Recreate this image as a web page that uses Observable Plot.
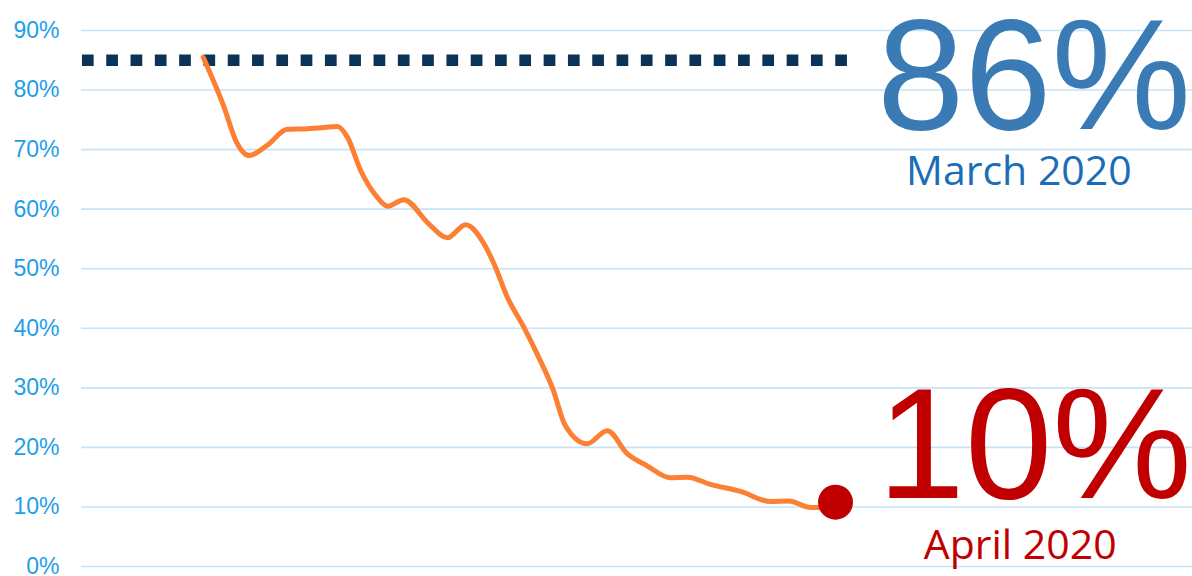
<!DOCTYPE html>
<html>
<head>
<meta charset="utf-8">
<script src="https://cdn.jsdelivr.net/npm/d3@7"></script>
<script src="https://cdn.jsdelivr.net/npm/@observablehq/plot@0.6"></script>
<style>
  html, body { margin: 0; padding: 0; background: #ffffff; }
  #chart svg { display: block; }
</style>
</head>
<body>
<div id="chart"></div>
<script>
// Position along the period (0 = start of March, 100 = end of April)
const timeIndex = [0, 3.3, 5.2, 7.3, 10.1, 13.3, 16.4, 19.1, 21.2, 22.8, 24.9, 27.3, 29.2, 31.7, 35.7, 38.6, 41.5, 44.4, 46.0, 48.1, 50.7, 52.8, 55.4, 57.2, 60.7, 63.9, 67.1, 70.2, 73.9, 76.6, 80.2, 85.0, 89.7, 92.6, 96.1, 98.2];
// Share values (%)
const shareValues = [85.5, 77.1, 71.4, 69.0, 70.7, 73.4, 73.5, 73.7, 73.9, 72.1, 66.5, 62.3, 60.5, 61.6, 57.5, 55.2, 57.4, 54.2, 50.8, 45.2, 40.2, 35.7, 29.5, 23.8, 20.6, 22.8, 18.9, 16.9, 14.9, 15.0, 13.8, 12.6, 10.9, 11.0, 9.9, 9.9];

const yTicks = [0, 10, 20, 30, 40, 50, 60, 70, 80, 90];

const marchLevel = [85];
const marchSpan = [-19.1, 102];
const marchLabel = ["86%"];
const marchCaption = ["March 2020"];

const aprilPoint = [{t: 100, v: 10.8}];
const aprilLabel = ["10%"];
const aprilCaption = ["April 2020"];

const series = timeIndex.map((t, i) => ({t, v: shareValues[i]}));

const chart = Plot.plot({
  width: 1192,
  height: 576,
  marginLeft: 81,
  marginRight: 0,
  marginTop: 30,
  marginBottom: 10,
  style: {
    fontFamily: "'Liberation Sans', Arial, sans-serif",
    fontSize: "23px",
    color: "#1e9de9",
    background: "#ffffff",
    overflow: "visible"
  },
  x: {domain: [-19.25, 156.46], axis: null},
  y: {
    domain: [0, 90],
    ticks: yTicks,
    tickSize: 0,
    tickPadding: 22,
    tickFormat: d => d + "%",
    label: null
  },
  marks: [
    Plot.ruleY(yTicks, {stroke: "#c6e3f8", strokeWidth: 1.6}),
    Plot.ruleY(marchLevel, {
      x1: marchSpan[0], x2: marchSpan[1],
      stroke: "#0b3257", strokeWidth: 11.5,
      strokeDasharray: "11.7,12.6", strokeLinecap: "butt"
    }),
    Plot.line(series, {
      x: "t", y: "v", curve: "monotone-x",
      stroke: "#fc7f33", strokeWidth: 5, strokeLinejoin: "round", strokeLinecap: "round"
    }),
    Plot.dot(aprilPoint, {x: "t", y: "v", r: 17.5, fill: "#c00000", stroke: "none"}),
    Plot.text(marchLabel, {
      x: 131.4, y: 73.5, text: d => d, lineAnchor: "bottom", textAnchor: "middle",
      fontSize: 157, fill: "#3a7bb5", fontFamily: "'Liberation Sans', Arial, sans-serif"
    }),
    Plot.text(marchCaption, {
      x: 129.0, y: 64.05, text: d => d, lineAnchor: "bottom", textAnchor: "middle",
      fontSize: 41, fill: "#1c6db7", fontFamily: "'Open Sans', 'Noto Sans', sans-serif"
    }),
    Plot.text(aprilLabel, {
      x: 131.5, y: 11.43, text: d => d, lineAnchor: "bottom", textAnchor: "middle",
      fontSize: 157, fill: "#c00000", fontFamily: "'Liberation Sans', Arial, sans-serif"
    }),
    Plot.text(aprilCaption, {
      x: 129.2, y: 1.24, text: d => d, lineAnchor: "bottom", textAnchor: "middle",
      fontSize: 41, fill: "#c00000", fontFamily: "'Open Sans', 'Noto Sans', sans-serif"
    })
  ]
});

document.getElementById("chart").appendChild(chart);
</script>
</body>
</html>
